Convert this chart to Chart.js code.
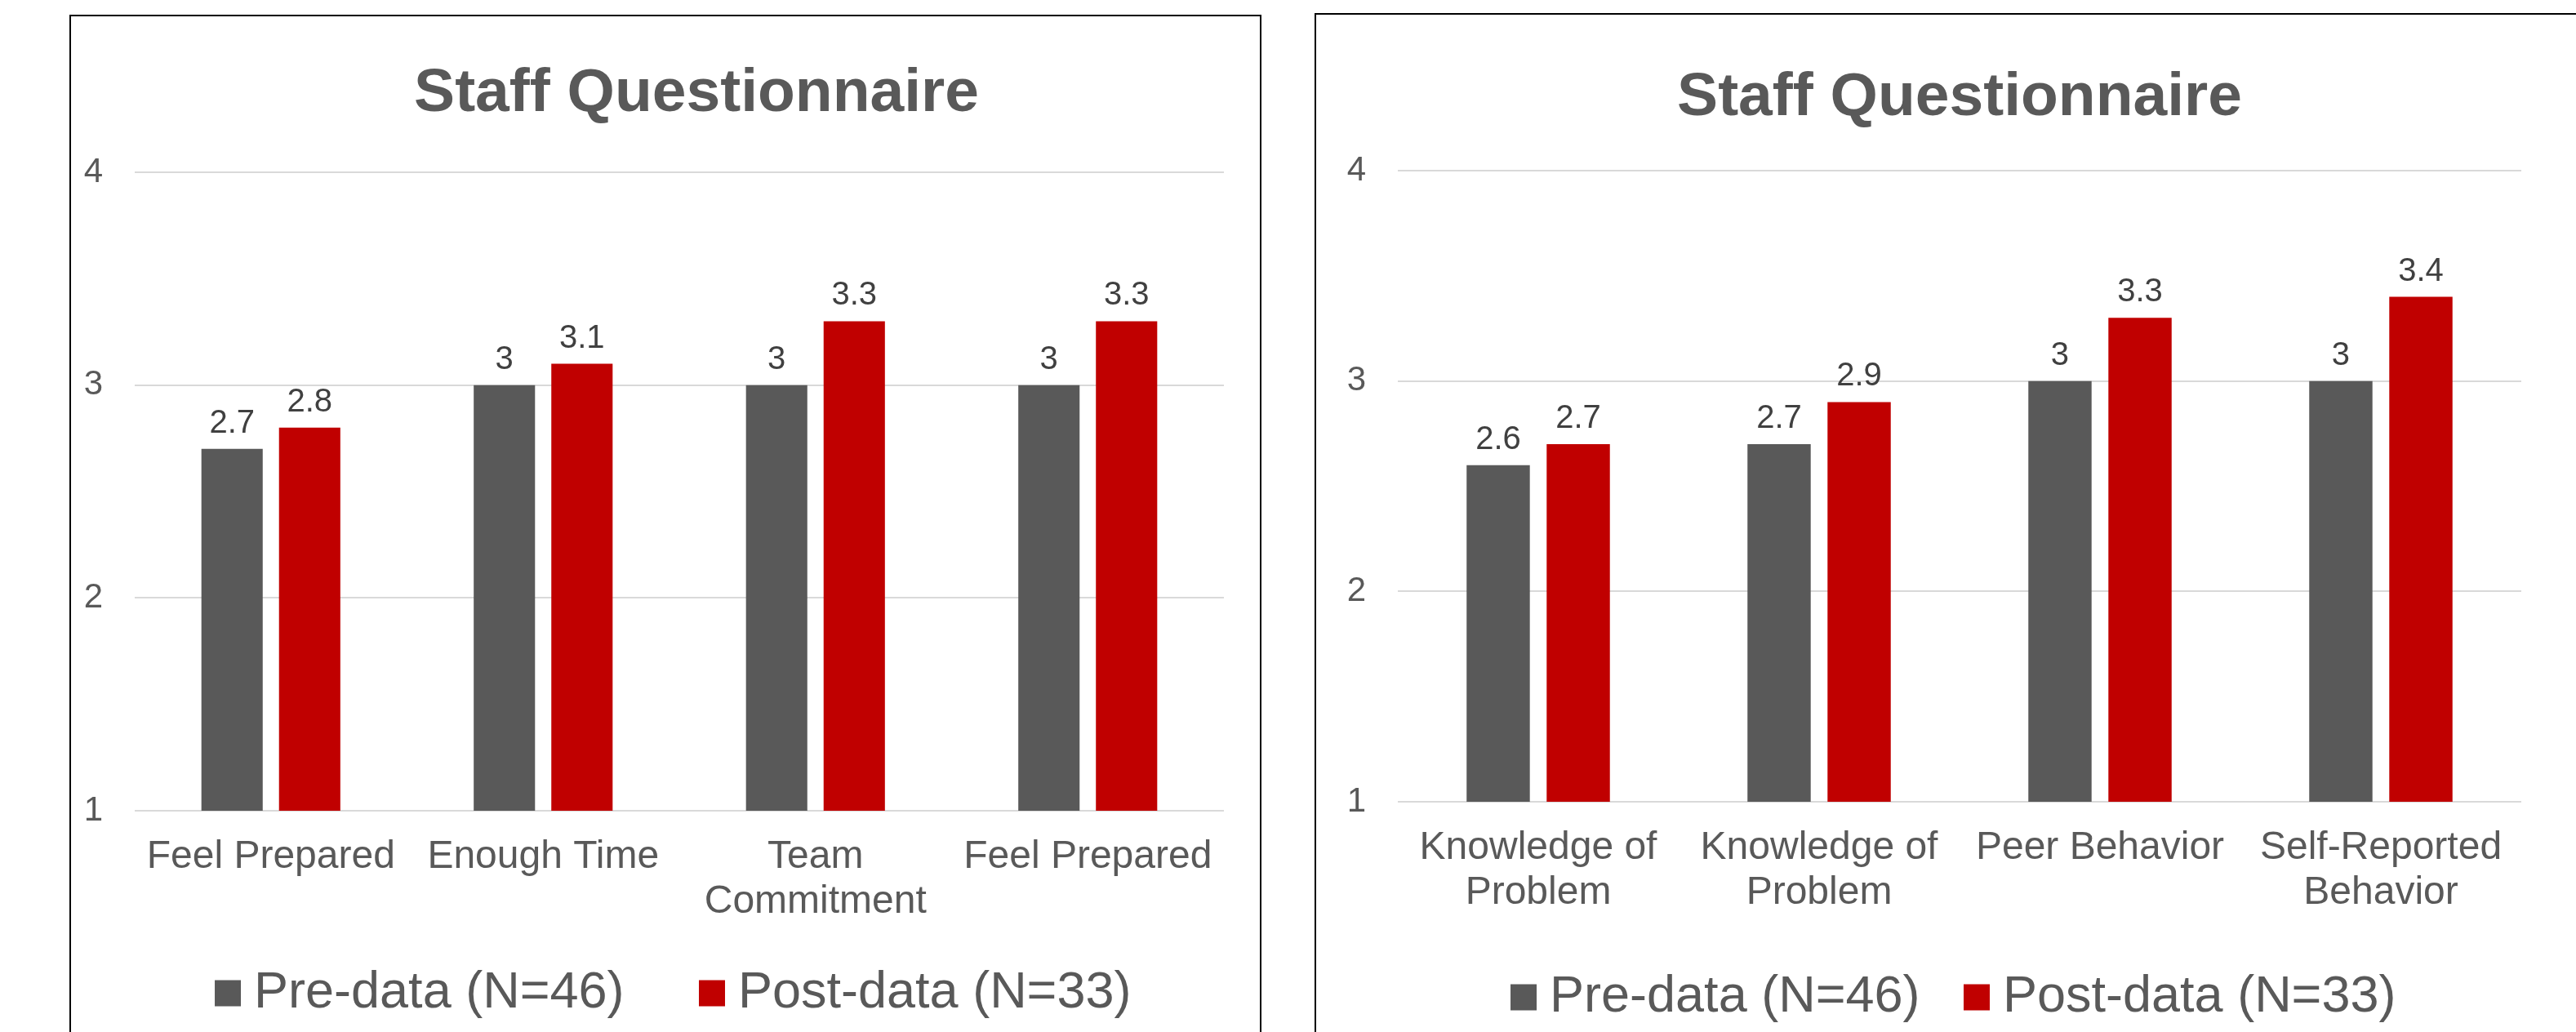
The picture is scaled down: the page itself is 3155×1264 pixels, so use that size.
<!DOCTYPE html>
<html>
<head>
<meta charset="utf-8">
<title>Staff Questionnaire</title>
<script src="https://cdn.jsdelivr.net/npm/chart.js@4.4.1/dist/chart.umd.min.js"></script>
<style>
  html, body { margin: 0; padding: 0; background: #fff; overflow: hidden; }
  body { width: 3155px; height: 1264px; position: relative; }
  .panel { position: absolute; border: 2px solid #000; box-sizing: border-box; }
  #panel-left { left: 85px; top: 18px; width: 1460px; height: 1330px; }
  #panel-right { left: 1610px; top: 16px; width: 1600px; height: 1330px; }
  canvas { position: absolute; }
  #chart-left { left: 87px; top: 20px; }
  #chart-right { left: 1612px; top: 18px; }
</style>
</head>
<body>
<div class="panel" id="panel-left"></div>
<div class="panel" id="panel-right"></div>
<canvas id="chart-left" width="1456" height="1295"></canvas>
<canvas id="chart-right" width="1543" height="1248"></canvas>
<script>
// Chart values
const chartTitle = 'Staff Questionnaire';
const seriesNames = ['Pre-data (N=46)', 'Post-data (N=33)'];
const yTicks = [1, 2, 3, 4];

const leftCategories = ['Feel Prepared', 'Enough Time', ['Team', 'Commitment'], 'Feel Prepared'];
const leftPre = [2.7, 3, 3, 3];
const leftPost = [2.8, 3.1, 3.3, 3.3];

const rightCategories = [['Knowledge of', 'Problem'], ['Knowledge of', 'Problem'], 'Peer Behavior', ['Self-Reported', 'Behavior']];
const rightPre = [2.6, 2.7, 3, 3];
const rightPost = [2.7, 2.9, 3.3, 3.4];

const FONT = '"Liberation Sans", Arial, sans-serif';
const GRAY = '#595959';
const RED = '#C00000';

// Title drawn over the plot area (Excel centres it a bit off the canvas middle)
const panelTitle = {
    id: 'panelTitle',
    afterDraw(chart, args, opts) {
        const ctx = chart.ctx;
        const area = chart.chartArea;
        ctx.save();
        ctx.font = 'bold 75px ' + FONT;
        ctx.fillStyle = '#595959';
        ctx.textAlign = 'center';
        ctx.textBaseline = 'alphabetic';
        ctx.fillText(opts.text, (area.left + area.right) / 2 + opts.dx, opts.y);
        ctx.restore();
    }
};

// Value labels above every bar
const barValues = {
    id: 'barValues',
    afterDatasetsDraw(chart) {
        const ctx = chart.ctx;
        ctx.save();
        ctx.font = '40px ' + FONT;
        ctx.fillStyle = '#404040';
        ctx.textAlign = 'center';
        ctx.textBaseline = 'alphabetic';
        chart.data.datasets.forEach(function(ds, i) {
            chart.getDatasetMeta(i).data.forEach(function(bar, j) {
                ctx.fillText(String(ds.data[j]), bar.x, bar.y - 20);
            });
        });
        ctx.restore();
    }
};

// The legend needs a wide item gap (padding) but sits close under the axis labels,
// so pull it up a little after layout
const legendNudge = {
    id: 'legendNudge',
    afterLayout(chart, args, opts) {
        chart.legend.top += opts.dy;
        chart.legend.bottom += opts.dy;
    }
};

function makeChart(id, categories, pre, post, cfg) {
    return new Chart(document.getElementById(id), {
        type: 'bar',
        data: {
            labels: categories,
            datasets: [
                { label: seriesNames[0], data: pre, backgroundColor: GRAY, borderWidth: 0 },
                { label: seriesNames[1], data: post, backgroundColor: RED, borderWidth: 0 }
            ]
        },
        options: {
            responsive: false,
            animation: false,
            categoryPercentage: 0.57,
            barPercentage: 0.79,
            layout: { padding: { top: cfg.top, left: 0, right: cfg.right, bottom: 0 } },
            scales: {
                x: {
                    grid: { display: false, drawTicks: false },
                    border: { display: false },
                    ticks: {
                        color: '#595959',
                        padding: 29,
                        maxRotation: 0,
                        autoSkip: false,
                        font: { family: FONT, size: 48, lineHeight: 1.15 }
                    },
                    afterFit: function(scale) { scale.height = 142; }
                },
                y: {
                    min: 1,
                    max: 4,
                    grid: { color: '#D9D9D9', lineWidth: 2, drawTicks: false },
                    border: { display: false },
                    ticks: {
                        color: '#595959',
                        padding: 39,
                        font: { family: FONT, size: 42 }
                    },
                    afterBuildTicks: function(scale) {
                        scale.ticks = yTicks.map(function(v) { return { value: v }; });
                    },
                    afterFit: function(scale) { scale.width = cfg.yWidth; }
                }
            },
            plugins: {
                title: { display: false },
                tooltip: { enabled: false },
                legend: {
                    position: 'bottom',
                    fullSize: false,
                    labels: {
                        color: '#595959',
                        font: { family: FONT, size: 63 },
                        usePointStyle: true,
                        pointStyle: 'rect',
                        boxWidth: 1,
                        boxHeight: 32,
                        padding: cfg.legendGap
                    }
                },
                legendNudge: { dy: cfg.legendDy },
                panelTitle: { text: chartTitle, dx: cfg.titleDx, y: cfg.titleY }
            }
        },
        plugins: [panelTitle, barValues, legendNudge]
    });
}

makeChart('chart-left', leftCategories, leftPre, leftPost,
    { top: 191, right: 44, yWidth: 78, legendGap: 107, legendDy: -57, titleDx: 21, titleY: 116 });
makeChart('chart-right', rightCategories, rightPre, rightPost,
    { top: 191, right: 67, yWidth: 100, legendGap: 69, legendDy: -3, titleDx: 0, titleY: 123 });
</script>
</body>
</html>
